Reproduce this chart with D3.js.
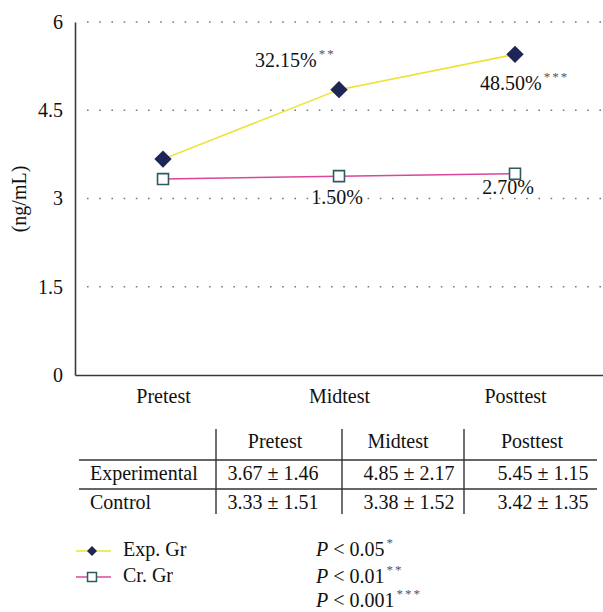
<!DOCTYPE html>
<html>
<head>
<meta charset="utf-8">
<script src="https://cdn.jsdelivr.net/npm/d3@7"></script>
<style>
  body { margin: 0; background: #fff; }
  svg, svg text { font-family: "Times New Roman", "Liberation Serif", Tinos, "DejaVu Serif", serif; }
</style>
</head>
<body>
<svg id="chart" width="603" height="612"></svg>
<script>
// data
const phases = ["Pretest", "Midtest", "Posttest"];
const groups = ["Experimental", "Control"];
const legendNames = ["Exp. Gr", "Cr. Gr"];
const expMean = [3.67, 4.85, 5.45];
const expSD = [1.46, 2.17, 1.15];
const ctrlMean = [3.33, 3.38, 3.42];
const ctrlSD = [1.51, 1.52, 1.35];
const yTicks = [0, 1.5, 3, 4.5, 6];
const expChange = [null, "32.15%", "48.50%"];
const expStars = [null, "**", "***"];
const ctrlChange = [null, "1.50%", "2.70%"];
const pLevels = ["0.05", "0.01", "0.001"];
const pStars = ["*", "**", "***"];

// layout
const yellow = "#ece32e", pink = "#d9479a", navy = "#1e2658", teal = "#2d5c5e";
const svg = d3.select("#chart");
const x = d3.scalePoint(phases, [75, 603]).padding(0.5);
const y = d3.scaleLinear([0, 6], [375, 22]);

// gridlines
svg.append("g")
    .attr("stroke", "#7a7a7a")
    .attr("stroke-width", 1.6)
    .attr("stroke-dasharray", "1.6 10.6")
  .selectAll("line")
  .data(yTicks.filter(d => d > 0))
  .join("line")
    .attr("x1", 87).attr("x2", 603)
    .attr("y1", d => y(d)).attr("y2", d => y(d));

const yAxis = svg.append("g")
    .attr("transform", "translate(75,0)")
    .call(d3.axisLeft(y).tickValues(yTicks).tickSize(0).tickPadding(12).tickFormat(d3.format("")));
const xAxis = svg.append("g")
    .attr("transform", "translate(0,375)")
    .call(d3.axisBottom(x).tickSize(0).tickPadding(14));
[yAxis, xAxis].forEach(g => {
  g.attr("font-family", null).attr("font-size", null);
  g.select(".domain").attr("stroke", "#3a3a3a").attr("stroke-width", 1.6);
  g.selectAll("text").attr("font-size", 20).attr("fill", "#111");
});

svg.append("text")
    .attr("transform", "translate(26,199) rotate(-90)")
    .attr("text-anchor", "middle")
    .attr("font-size", 20)
    .attr("fill", "#111")
    .text("(ng/mL)");

// lines
const line = d3.line().x((d, i) => x(phases[i])).y(d => y(d));
svg.append("path").datum(ctrlMean)
    .attr("fill", "none").attr("stroke", pink).attr("stroke-width", 1.5)
    .attr("d", line);
svg.append("path").datum(expMean)
    .attr("fill", "none").attr("stroke", yellow).attr("stroke-width", 1.5)
    .attr("d", line);

const diamond = d3.symbol(d3.symbolSquare, 150)();
const square = d3.symbol(d3.symbolSquare, 120)();
svg.append("g").selectAll("path")
  .data(expMean)
  .join("path")
    .attr("transform", (d, i) => `translate(${x(phases[i])},${y(d)}) rotate(45)`)
    .attr("d", diamond)
    .attr("fill", navy);
svg.append("g").selectAll("path")
  .data(ctrlMean)
  .join("path")
    .attr("transform", (d, i) => `translate(${x(phases[i])},${y(d)})`)
    .attr("d", square)
    .attr("fill", "#fff").attr("stroke", teal).attr("stroke-width", 1.6);

// change labels (offsets from points)
const expOff = [null, [-84, -23], [-35, 36]];
const ctrlOff = [null, [-2, 28], [-7, 20]];
const lab = svg.append("g").attr("font-size", 20).attr("fill", "#111");
expMean.forEach((v, i) => {
  if (!expChange[i]) return;
  const t = lab.append("text")
      .attr("x", x(phases[i]) + expOff[i][0])
      .attr("y", y(v) + expOff[i][1]);
  t.append("tspan").text(expChange[i]);
  t.append("tspan").attr("font-size", 13).attr("dy", -9).attr("dx", 2)
      .attr("fill", "#555").attr("letter-spacing", 2).text(expStars[i]);
});
ctrlMean.forEach((v, i) => {
  if (!ctrlChange[i]) return;
  lab.append("text")
      .attr("text-anchor", "middle")
      .attr("x", x(phases[i]) + ctrlOff[i][0])
      .attr("y", y(v) + ctrlOff[i][1])
      .text(ctrlChange[i]);
});

// table
const colEdges = [216, 342, 464, 597];
const headX = [275, 398, 532];
const cellX = [273, 409, 543];
const rowBase = [480, 509];
const tbl = svg.append("g").attr("font-size", 20).attr("fill", "#111");
tbl.selectAll("line.h")
  .data([460, 489])
  .join("line")
    .attr("x1", 79).attr("x2", 597)
    .attr("y1", d => d).attr("y2", d => d)
    .attr("stroke", "#333").attr("stroke-width", 1.4);
tbl.selectAll("line.v")
  .data(colEdges.slice(0, 3))
  .join("line")
    .attr("x1", d => d).attr("x2", d => d)
    .attr("y1", 429).attr("y2", 514)
    .attr("stroke", "#333").attr("stroke-width", 1.4);
tbl.selectAll("text.head")
  .data(phases)
  .join("text")
    .attr("text-anchor", "middle")
    .attr("x", (d, i) => headX[i]).attr("y", 448)
    .text(d => d);
tbl.selectAll("text.row")
  .data(groups)
  .join("text")
    .attr("x", 90).attr("y", (d, i) => rowBase[i])
    .text(d => d);
[[expMean, expSD], [ctrlMean, ctrlSD]].forEach(([m, s], r) => {
  m.forEach((v, i) => {
    tbl.append("text")
        .attr("text-anchor", "middle")
        .attr("x", cellX[i]).attr("y", rowBase[r])
        .text(`${v.toFixed(2)} ± ${s[i].toFixed(2)}`);
  });
});

// legend
const leg = svg.append("g").attr("font-size", 20).attr("fill", "#111");
const legY = [551, 577];
[[yellow, "diamond"], [pink, "square"]].forEach(([c, shape], i) => {
  leg.append("line")
      .attr("x1", 76).attr("x2", 111).attr("y1", legY[i]).attr("y2", legY[i])
      .attr("stroke", c).attr("stroke-width", 1.5);
  if (shape === "diamond") {
    leg.append("path")
        .attr("transform", `translate(92,${legY[i]}) rotate(45)`)
        .attr("d", d3.symbol(d3.symbolSquare, 50)())
        .attr("fill", navy);
  } else {
    leg.append("path")
        .attr("transform", `translate(92,${legY[i]})`)
        .attr("d", d3.symbol(d3.symbolSquare, 80)())
        .attr("fill", "#fff").attr("stroke", teal).attr("stroke-width", 1.5);
  }
  leg.append("text")
      .attr("x", 123).attr("y", legY[i] + 5)
      .text(legendNames[i]);
});
const pBase = [556, 583, 607];
pLevels.forEach((p, i) => {
  const t = leg.append("text").attr("x", 316).attr("y", pBase[i]);
  t.append("tspan").attr("font-style", "italic").text("P");
  t.append("tspan").text(` < ${p}`);
  t.append("tspan").attr("font-size", 13).attr("dy", -9).attr("dx", 2)
      .attr("fill", "#555").attr("letter-spacing", 2).text(pStars[i]);
});
</script>
</body>
</html>
